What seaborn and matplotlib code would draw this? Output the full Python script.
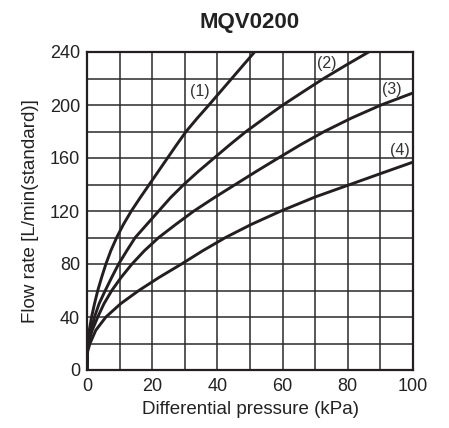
import matplotlib
matplotlib.use("Agg")
import matplotlib.pyplot as plt
import seaborn as sns
import pandas as pd

# ---- data ----
c1_x = [0, 0.1, 0.25, 0.7, 1.4, 2.3, 3.3, 4.5, 5.8, 7.3, 9.1, 11.2, 13.6, 16.3, 19.1,
        21.9, 24.7, 27.5, 30.4, 33.8, 37.4, 40.9, 44.4, 47.9, 51.4]
c1_y = [0, 15, 20, 30, 40, 50, 60, 70, 80, 90, 100, 110, 120, 130, 140,
        150, 160, 170, 180, 190, 200, 210, 220, 230, 240]
c2_x = [0, 0.15, 0.3, 1.2, 2.3, 3.7, 5.6, 7.6, 9.7, 12.2, 14.8, 18.4, 22.0, 25.6, 29.7,
        34.2, 39.0, 43.8, 48.8, 54.4, 60.1, 66.3, 72.6, 79.4, 86.4]
c2_y = [0, 15, 20, 30, 40, 50, 60, 70, 80, 90, 100, 110, 120, 130, 140,
        150, 160, 170, 180, 190, 200, 210, 220, 230, 240]
c3_x = [0, 0.15, 0.35, 1.6, 3.3, 5.2, 7.6, 10.5, 13.8, 17.6, 22.0, 27.3, 32.8, 39.0,
        45.5, 52.0, 58.7, 65.5, 72.8, 81.0, 90.2, 100]
c3_y = [0, 15, 20, 30, 40, 50, 60, 70, 80, 90, 100, 110, 120, 130,
        140, 150, 160, 170, 180, 190, 200, 209.1]
c4_x = [0, 0.2, 0.9, 2.7, 5.8, 10.3, 15.9, 22.2, 29.0, 35.5, 42.5, 50.5, 59.5,
        70, 80, 90, 100]
c4_y = [0, 14, 20, 30, 40, 50, 60, 70, 80, 90, 100, 110, 120,
        130.6, 139.4, 148.2, 156.9]

curve_names = ["(1)", "(2)", "(3)", "(4)"]
label_x = [34.7, 73.6, 93.6, 96.0]
label_y = [210.5, 231.5, 212.0, 166.0]

x_ticks = [0, 20, 40, 60, 80, 100]
y_ticks = [0, 40, 80, 120, 160, 200, 240]

frames = []
for name, xs, ys in zip(curve_names, [c1_x, c2_x, c3_x, c4_x], [c1_y, c2_y, c3_y, c4_y]):
    frames.append(pd.DataFrame({"x": xs, "y": ys, "curve": name}))
df = pd.concat(frames, ignore_index=True)

sns.set_style("white")
plt.rcParams["font.family"] = ["Liberation Sans", "DejaVu Sans"]

ink = "#231f20"
fig = plt.figure(figsize=(4.49, 4.28), dpi=100)
ax = fig.add_axes([87 / 449, 1 - 370 / 428, 326 / 449, 318 / 428])

sns.lineplot(data=df, x="x", y="y", hue="curve", units="curve", estimator=None,
             palette=[ink] * 4, linewidth=2.1, legend=False, ax=ax, sort=False)

for name, lx, ly in zip(curve_names, label_x, label_y):
    ax.text(lx, ly, name, ha="center", va="center", fontsize=11.5, color="#333333")

ax.set_xlim(0, 100)
ax.set_ylim(0, 240)
ax.set_xticks(x_ticks)
ax.set_yticks(y_ticks)
ax.set_xticks(range(0, 101, 10), minor=True)
ax.set_yticks(range(0, 241, 20), minor=True)
ax.grid(True, which="both", color="#2a2a2a", linewidth=1.1)
ax.set_axisbelow(True)
for s in ax.spines.values():
    s.set_color(ink)
    s.set_linewidth(1.6)
ax.tick_params(which="both", length=0)
ax.tick_params(axis="x", pad=6, labelsize=13, colors="#222222")
ax.tick_params(axis="y", pad=5, labelsize=13, colors="#222222")

ax.set_xlabel("Differential pressure (kPa)", fontsize=13.5, color="#222222", labelpad=4)
ax.set_ylabel("Flow rate [L/min(standard)]", fontsize=13.5, color="#222222", labelpad=8)
ax.set_title("MQV0200", fontsize=16, fontweight="bold", color="#222222", pad=17)

fig.savefig("out.png", dpi=100)
